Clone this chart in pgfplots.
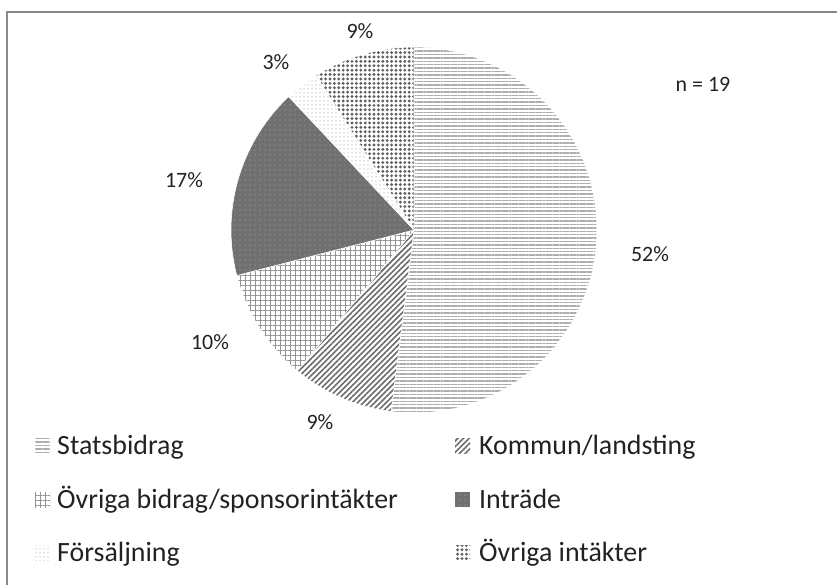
\documentclass[border=0pt]{standalone}
\usepackage{fontspec}
\setmainfont{Carlito}
\usepackage{pgfplots}
\usepackage{pgfplotstable}
\pgfplotsset{compat=1.18}
\usetikzlibrary{patterns,patterns.meta}

\definecolor{txt}{HTML}{222222}
\definecolor{frame}{HTML}{8A8A8A}
\definecolor{intr}{HTML}{707070}

\tikzset{
  pA/.style={pattern={Lines[angle=0,distance=3.4bp,line width=1.4bp]}, pattern color=black!32},
  pB/.style={pattern={Lines[angle=45,distance=4bp,line width=1.6bp]}, pattern color=black!58},
  pC/.style={pattern={Hatch[angle=0,distance=5bp,line width=0.9bp]}, pattern color=black!42},
  pD/.style={fill=intr},
  pDd/.style={pattern={Dots[distance=5bp,radius=0.55bp]}, pattern color=black!35},
  pE/.style={pattern={Dots[distance=4bp,radius=0.75bp]}, pattern color=black!22},
  pF/.style={pattern={Dots[distance=4.4bp,radius=1.6bp]}, pattern color=black!62},
}

\pgfplotstableread{
label value
Statsbidrag 52
Kommun 9
OvrBidrag 10
Intrade 17
Forsaljning 3
OvrIntakter 9
}\piedata

\begin{document}
\begin{tikzpicture}[x=1bp,y=1bp]
\path[use as bounding box] (0,0) rectangle (837,585);
\draw[frame, line width=1.8bp] (7,0) -- (7,573) -- (838,573);

\pgfplotstablegetelem{0}{value}\of\piedata \pgfmathsetmacro\vA{\pgfplotsretval}
\pgfplotstablegetelem{1}{value}\of\piedata \pgfmathsetmacro\vB{\pgfplotsretval}
\pgfplotstablegetelem{2}{value}\of\piedata \pgfmathsetmacro\vC{\pgfplotsretval}
\pgfplotstablegetelem{3}{value}\of\piedata \pgfmathsetmacro\vD{\pgfplotsretval}
\pgfplotstablegetelem{4}{value}\of\piedata \pgfmathsetmacro\vE{\pgfplotsretval}
\pgfplotstablegetelem{5}{value}\of\piedata \pgfmathsetmacro\vF{\pgfplotsretval}
\pgfmathsetmacro\aA{90}
\pgfmathsetmacro\aB{\aA-3.6*\vA}
\pgfmathsetmacro\aC{\aB-3.6*\vB}
\pgfmathsetmacro\aD{\aC-3.6*\vC}
\pgfmathsetmacro\aE{\aD-3.6*\vD}
\pgfmathsetmacro\aF{\aE-3.6*\vE}
\pgfmathsetmacro\aG{\aF-3.6*\vF}

\begin{axis}[at={(414bp,355bp)}, anchor=center, scale only axis,
  width=366bp, height=366bp, xmin=-1, xmax=1, ymin=-1, ymax=1,
  hide axis, clip=false]
\path[pA, draw=white, line width=0.6bp] (axis cs:0,0) -- ++(\aA:183bp) arc[start angle=\aA, end angle=\aB, radius=183bp] -- cycle;
\path[pB, draw=white, line width=0.6bp] (axis cs:0,0) -- ++(\aB:183bp) arc[start angle=\aB, end angle=\aC, radius=183bp] -- cycle;
\path[pC, draw=white, line width=0.6bp] (axis cs:0,0) -- ++(\aC:183bp) arc[start angle=\aC, end angle=\aD, radius=183bp] -- cycle;
\path[pD] (axis cs:0,0) -- ++(\aD:183bp) arc[start angle=\aD, end angle=\aE, radius=183bp] -- cycle;
\path[pDd, draw=white, line width=0.6bp] (axis cs:0,0) -- ++(\aD:183bp) arc[start angle=\aD, end angle=\aE, radius=183bp] -- cycle;
\path[pE, draw=white, line width=0.6bp] (axis cs:0,0) -- ++(\aE:183bp) arc[start angle=\aE, end angle=\aF, radius=183bp] -- cycle;
\path[pF, draw=white, line width=0.6bp] (axis cs:0,0) -- ++(\aF:183bp) arc[start angle=\aF, end angle=\aG, radius=183bp] -- cycle;
\end{axis}

% value labels
\begin{scope}[every node/.style={text=txt, font=\fontsize{22}{26}\selectfont, inner sep=0pt, anchor=base}]
\node at (650,323) {52\%};
\node at (320,155) {9\%};
\node at (210,235) {10\%};
\node at (184,397) {17\%};
\node at (276,515) {3\%};
\node at (360,546) {9\%};
\node at (703,493) {n = 19};
\end{scope}

% legend
\begin{scope}[every node/.style={text=txt, font=\fontsize{28}{32}\selectfont, inner sep=0pt, anchor=base west}]
\path[pA] (35,131) rectangle (50,146);
\node at (57,130) {Statsbidrag};
\path[pB] (455,131) rectangle (470,146);
\node at (479,130) {Kommun/landsting};
\path[pC] (35,77.5) rectangle (50,92.5);
\node at (57,76.5) {Övriga bidrag/sponsorintäkter};
\path[pD] (455,77.5) rectangle (470,92.5);
\path[pDd] (455,77.5) rectangle (470,92.5);
\node at (479,76.5) {Inträde};
\path[pE] (35,24) rectangle (50,39);
\node at (57,23) {Försäljning};
\path[pF] (455,24) rectangle (470,39);
\node at (479,23) {Övriga intäkter};
\end{scope}
\end{tikzpicture}
\end{document}
